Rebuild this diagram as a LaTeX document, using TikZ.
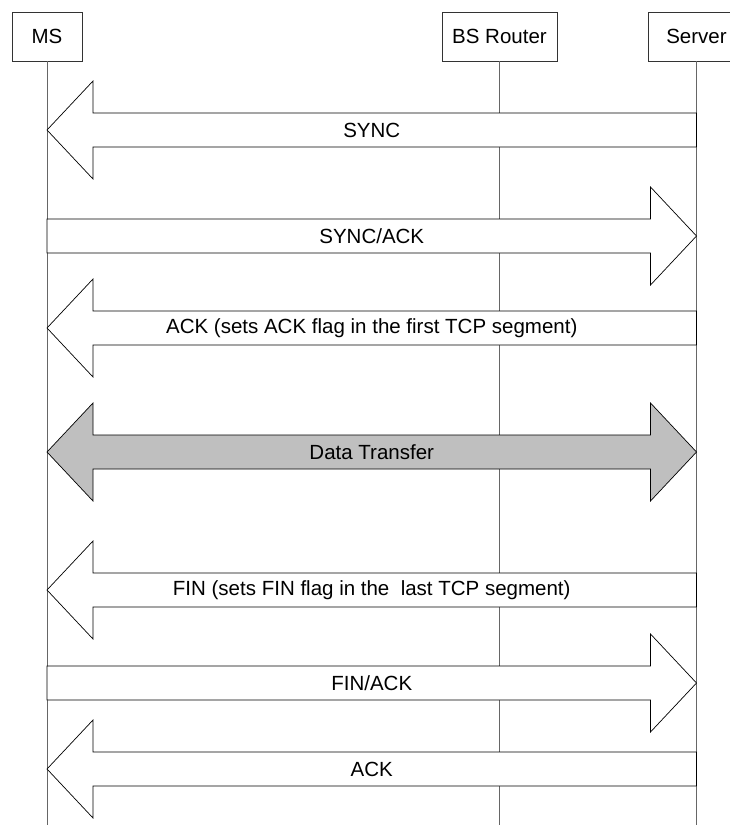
\documentclass[tikz,border=0pt]{standalone}
\usepackage{fontspec}
\setmainfont{Liberation Sans}
\begin{document}
\begin{tikzpicture}[x=1pt,y=-1pt,
  entity/.style={draw=black!80, fill=white, minimum height=49pt, inner sep=0pt,
    font=\fontsize{20.5}{24}\selectfont},
  lifeline/.style={draw=black!60, line width=0.8pt},
  msgbox/.style={draw=black, fill=white, line width=0.7pt},
  msgtext/.style={font=\fontsize{20.5}{24}\selectfont}]
\useasboundingbox (0,0) rectangle (730,825);
\node[entity, minimum width=70pt] (ms) at (47,36.5) {MS};
\node[entity, minimum width=115pt] (bs) at (499.5,36.5) {BS Router};
\node[entity, minimum width=96pt] (server) at (696.5,36.5) {Server};
\foreach \n in {ms,bs,server}
{
	\draw[lifeline] (\n.south) -- (\n.south |- 0,825);
}
% server to MS
\foreach \y/\lbl [count=\i] in {130/SYNC, 328/{ACK (sets ACK flag in the first TCP segment)},
  590/{FIN (sets FIN flag in the\ \ last TCP segment)}, 769/ACK}
{
	\coordinate (l) at (ms |- 0,\y);
	\coordinate (r) at (server |- 0,\y);
	\filldraw[msgbox] (l) -- ([shift={(46,-49)}]l) -- ([shift={(46,-17)}]l)
		-- ([shift={(0,-17)}]r) -- ([shift={(0,17)}]r) -- ([shift={(46,17)}]l)
		-- ([shift={(46,49)}]l) -- cycle;
	\path (l) -- (r) node[midway, msgtext] (down\i) {\lbl};
}
% MS to server
\foreach \y/\lbl [count=\i] in {236/{SYNC/ACK}, 683/{FIN/ACK}}
{
	\coordinate (l) at (ms |- 0,\y);
	\coordinate (r) at (server |- 0,\y);
	\filldraw[msgbox] (r) -- ([shift={(-46,-49)}]r) -- ([shift={(-46,-17)}]r)
		-- ([shift={(0,-17)}]l) -- ([shift={(0,17)}]l) -- ([shift={(-46,17)}]r)
		-- ([shift={(-46,49)}]r) -- cycle;
	\path (l) -- (r) node[midway, msgtext] (up\i) {\lbl};
}
% both ways
\coordinate (l) at (ms |- 0,452);
\coordinate (r) at (server |- 0,452);
\filldraw[msgbox, fill=black!25] (l) -- ([shift={(46,-49)}]l) -- ([shift={(46,-17)}]l)
	-- ([shift={(-46,-17)}]r) -- ([shift={(-46,-49)}]r) -- (r)
	-- ([shift={(-46,49)}]r) -- ([shift={(-46,17)}]r) -- ([shift={(46,17)}]l)
	-- ([shift={(46,49)}]l) -- cycle;
\path (l) -- (r) node[midway, msgtext] (data) {Data Transfer};
\end{tikzpicture}
\end{document}
